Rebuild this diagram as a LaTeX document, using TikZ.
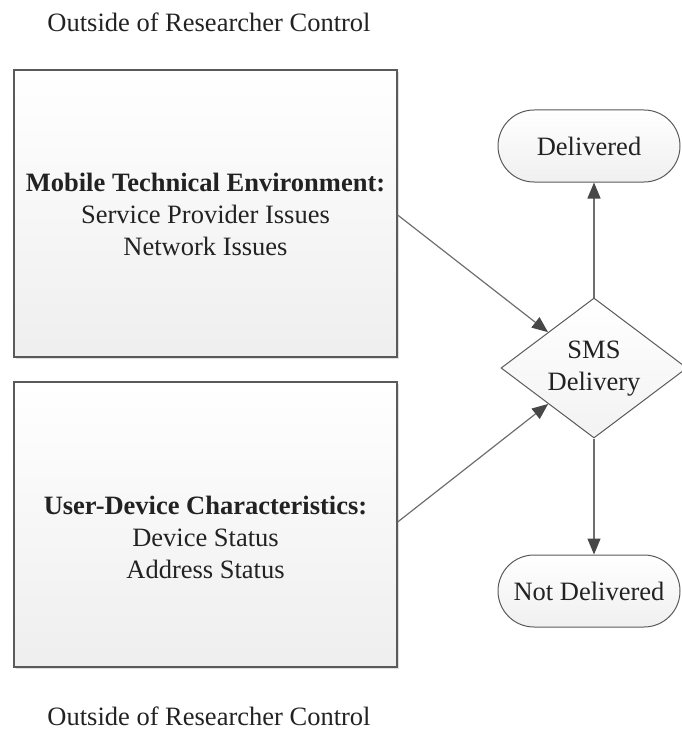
\documentclass[tikz,border=0pt]{standalone}
\usepackage{fontspec}
\setmainfont{Liberation Serif}
\usetikzlibrary{shapes.geometric,shapes.misc,arrows.meta,shadows}
\definecolor{linegray}{HTML}{6E6E6E}
\definecolor{tipgray}{HTML}{474747}
\definecolor{boxedge}{HTML}{5A5A5A}
\definecolor{txt}{HTML}{222222}
\begin{document}
\begin{tikzpicture}[x=1pt,y=-1pt,
  every node/.style={font=\fontsize{26.5}{32}\selectfont, text=txt},
  panel/.style={draw=boxedge, line width=1.3pt, top color=white, bottom color=gray!13,
    drop shadow={shadow xshift=1.5pt, shadow yshift=-2pt, opacity=0.25},
    minimum width=383pt, minimum height=287pt, align=center, inner sep=0pt},
  pill/.style={rounded rectangle, draw=boxedge, line width=1pt, top color=white, bottom color=gray!12,
    minimum width=182pt, minimum height=72pt, inner sep=0pt},
  decision/.style={diamond, draw=boxedge, line width=1pt, top color=white, bottom color=gray!10,
    minimum width=186pt, minimum height=140pt, aspect=1.33, inner sep=0pt},
  arr/.style={draw=linegray, line width=1.2pt, -{Triangle[length=16pt,width=13pt,fill=tipgray,color=tipgray]}}
]
\useasboundingbox (0,0) rectangle (681,730);

\node (toplbl) at (209,22) {Outside of Researcher Control};
\node (botlbl) at (209,716) {Outside of Researcher Control};

\node[panel] (mte) at (205.5,213.5) {};
\node[align=center] (mtetxt) at (205.5,214) {\textbf{Mobile Technical Environment:}\\Service Provider Issues\\Network Issues};

\node[panel, minimum height=285pt] (udc) at (205.5,524.5) {};
\node[align=center] (udctxt) at (205.5,537) {\textbf{User-Device Characteristics:}\\Device Status\\Address Status};

\node[pill] (del) at (589,146) {Delivered};
\node[decision] (sms) at (594,368) {};
\node[align=center] (smstxt) at (594,369) {SMS\\Delivery};
\node[pill] (nd) at (589,591) {Not Delivered};

\draw[arr] ([yshift=-1.5pt]mte.east) -- (sms);
\draw[arr] ([yshift=2.5pt]udc.east) -- (sms);
\draw[arr] (sms.north) -- (sms.north |- del.south);
\draw[arr] (sms.south) -- (sms.south |- nd.north);
\end{tikzpicture}
\end{document}
